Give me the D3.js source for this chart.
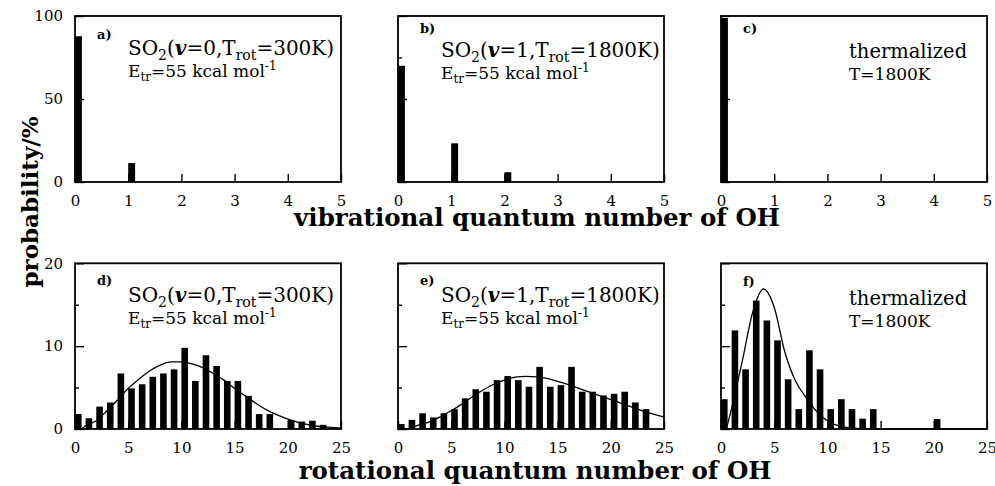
<!DOCTYPE html>
<html>
<head>
<meta charset="utf-8">
<script src="https://cdn.jsdelivr.net/npm/d3@7/dist/d3.min.js"></script>
<style>
body { margin: 0; background: #fff; }
</style>
</head>
<body>
<div id="chart"></div>
<script>
var w = 995,
	h = 486;

var serif = "'DejaVu Serif', serif";

// vibrational quantum number of OH (top row), probability in %
var vibLevels = [0, 1, 2, 3, 4, 5];
var vibA = [87.8, 11.4, 0, 0, 0, 0];
var vibB = [70.0, 23.3, 5.9, 0, 0, 0];
var vibC = [98.8, 0.6, 0, 0, 0, 0];

// rotational quantum number of OH (bottom row), probability in %
var rotLevels = [0, 1, 2, 3, 4, 5, 6, 7, 8, 9, 10, 11, 12, 13, 14, 15, 16, 17, 18, 19, 20, 21, 22, 23];
var rotD = [1.8, 1.3, 2.7, 3.2, 6.7, 4.9, 5.4, 6.3, 6.7, 7.2, 9.8, 5.8, 8.9, 7.6, 5.8, 5.8, 4.0, 1.8, 1.8, 0, 1.1, 0.9, 1.0, 0.5];
var rotE = [0.6, 1.1, 1.9, 1.4, 1.9, 2.4, 3.7, 4.8, 4.5, 5.9, 6.4, 5.9, 5.1, 7.5, 5.1, 5.3, 7.5, 4.5, 4.5, 4.05, 4.25, 4.5, 3.2, 2.4];
var rotF = [3.6, 11.9, 7.2, 15.5, 13.1, 10.7, 6.0, 2.4, 9.5, 7.2, 2.4, 3.6, 2.4, 1.25, 2.4, 0, 0, 0, 0, 0, 1.2, 0, 0, 0];

// fitted curves drawn over the rotational histograms
var fitDJ = [0.6, 1, 2, 3, 4, 5, 6, 7, 8, 9, 10, 11, 12, 13, 14, 15, 16, 17, 18, 19, 20, 21, 22, 23, 24, 25];
var fitD = [0, 0.4, 1.0, 2.2, 3.5, 4.9, 6.0, 7.0, 7.7, 8.1, 8.1, 7.85, 7.4, 6.7, 5.9, 4.9, 4.0, 3.1, 2.3, 1.7, 1.2, 0.8, 0.5, 0.3, 0.2, 0.12];
var fitEJ = [0.9, 2, 3, 4, 5, 6, 7, 8, 9, 10, 11, 12, 13, 14, 15, 16, 17, 18, 19, 20, 21, 22, 23, 24, 25];
var fitE = [0, 0.5, 0.9, 1.5, 2.2, 3.0, 3.9, 4.7, 5.4, 5.9, 6.25, 6.35, 6.3, 6.1, 5.75, 5.35, 4.9, 4.45, 4.0, 3.55, 3.1, 2.65, 2.2, 1.8, 1.45];
var fitFJ = [0.5, 1, 2, 3, 4, 5, 6, 7, 8, 9, 10, 11, 12, 13, 14, 25];
var fitF = [0, 2.5, 8.2, 14.2, 16.9, 14.7, 9.3, 5.8, 3.8, 2.1, 1.0, 0.4, 0.15, 0.05, 0, 0];

var vibTicks = [0, 1, 2, 3, 4, 5];
var rotTicks = [0, 5, 10, 15, 20, 25];

var svg = d3
	.select("#chart")
	.append("svg")
	.attr("width", w)
	.attr("height", h);

var pw = 266;
var lefts = [75, 398, 721];
var rows = [
	{ top: 16, bottom: 182, ymax: 100, major: [0, 50, 100], minor: [25, 75], xmax: 5, xticks: vibTicks, barW: 0.13 },
	{ top: 263.3, bottom: 429, ymax: 20, major: [0, 10, 20], minor: [5, 15], xmax: 25, xticks: rotTicks, barW: 0.62 }
];

function styleAxis(a, labels) {
	a.attr("font-family", serif).attr("font-size", 15);
	a.select(".domain").remove();
	a.selectAll("line").attr("stroke-width", 1.4);
	a.selectAll("text").style("font-family", serif).style("font-size", "15px");
	if (!labels) a.selectAll("text").remove();
}

function drawPanel(p) {
	var r = rows[p.row];
	var left = lefts[p.col];
	var x = d3.scaleLinear().domain([0, r.xmax]).range([left, left + pw]);
	var y = d3.scaleLinear().domain([0, r.ymax]).range([r.bottom, r.top]);
	var g = svg.append("g");

	var bars = p.levels.map(function(j, i) { return { j: j, v: p.values[i] }; })
		.filter(function(d) { return d.v > 0; });
	g.selectAll("rect.bar").data(bars).enter().append("rect")
		.attr("class", "bar")
		.attr("x", function(d) { return x(d.j); })
		.attr("width", function(d) { return x(d.j + r.barW) - x(d.j); })
		.attr("y", function(d) { return y(d.v); })
		.attr("height", function(d) { return y(0) - y(d.v); })
		.attr("fill", "#000");

	if (p.fitJ) {
		var pts = p.fitJ.map(function(j, i) { return [j, p.fit[i]]; });
		g.append("path")
			.datum(pts)
			.attr("fill", "none")
			.attr("stroke", "#000")
			.attr("stroke-width", 1.3)
			.attr("d", d3.line()
				.x(function(d) { return x(d[0]); })
				.y(function(d) { return y(d[1]); })
				.curve(d3.curveMonotoneX));
	}

	// bottom axis, ticks pointing inward
	var xa = g.append("g")
		.attr("transform", `translate(0, ${r.bottom})`)
		.call(d3.axisBottom(x).tickValues(r.xticks).tickFormat(d3.format("d"))
			.tickSizeInner(-8).tickSizeOuter(0).tickPadding(13));
	styleAxis(xa, true);

	// left axis: labelled majors + short minors
	var ya = g.append("g")
		.attr("transform", `translate(${left}, 0)`)
		.call(d3.axisLeft(y).tickValues(r.major).tickFormat(d3.format("d"))
			.tickSizeInner(-9).tickSizeOuter(0).tickPadding(12));
	styleAxis(ya, p.col == 0);

	var ym = g.append("g")
		.attr("transform", `translate(${left}, 0)`)
		.call(d3.axisLeft(y).tickValues(r.minor).tickSizeInner(-4).tickSizeOuter(0));
	styleAxis(ym, false);

	// frame
	g.append("rect")
		.attr("x", left)
		.attr("y", r.top)
		.attr("width", pw)
		.attr("height", r.bottom - r.top)
		.attr("fill", "none")
		.attr("stroke", "#000")
		.attr("stroke-width", 1.8);

	// panel letter
	g.append("text")
		.attr("x", left + 22)
		.attr("y", p.letterY)
		.style("font-family", serif)
		.style("font-size", "13px")
		.style("font-weight", "bold")
		.text(p.letter);

	// annotation
	if (p.thermal) {
		g.append("text").attr("x", left + 128).attr("y", r.top + 42)
			.style("font-family", serif).style("font-size", "19.5px").text("thermalized");
		g.append("text").attr("x", left + 128).attr("y", r.top + 64)
			.style("font-family", serif).style("font-size", "17px").text("T=1800K");
	} else {
		var t1 = g.append("text").attr("x", left + p.textDx).attr("y", r.top + p.line1)
			.style("font-family", serif).style("font-size", "20px");
		t1.append("tspan").text("SO");
		t1.append("tspan").attr("dy", 5).style("font-size", "14px").text("2");
		t1.append("tspan").attr("dy", -5).text("(");
		t1.append("tspan").style("font-weight", "bold").style("font-style", "italic").text("v");
		t1.append("tspan").text("=" + p.v + ",T");
		t1.append("tspan").attr("dy", 5).style("font-size", "14px").text("rot");
		t1.append("tspan").attr("dy", -5).text("=" + p.trot + ")");

		var t2 = g.append("text").attr("x", left + p.textDx).attr("y", r.top + p.line1 + 22)
			.style("font-family", serif).style("font-size", "17px");
		t2.append("tspan").text("E");
		t2.append("tspan").attr("dy", 4).style("font-size", "12px").text("tr");
		t2.append("tspan").attr("dy", -4).text("=55 kcal mol");
		t2.append("tspan").attr("dy", -7).style("font-size", "12px").text("-1");
	}
}

drawPanel({ row: 0, col: 0, levels: vibLevels, values: vibA, letter: "a)", letterY: 39, textDx: 53, line1: 39, v: 0, trot: "300K" });
drawPanel({ row: 0, col: 1, levels: vibLevels, values: vibB, letter: "b)", letterY: 33, textDx: 43, line1: 41, v: 1, trot: "1800K" });
drawPanel({ row: 0, col: 2, levels: vibLevels, values: vibC, letter: "c)", letterY: 33, thermal: true });
drawPanel({ row: 1, col: 0, levels: rotLevels, values: rotD, fitJ: fitDJ, fit: fitD, letter: "d)", letterY: 285, textDx: 53, line1: 38.5, v: 0, trot: "300K" });
drawPanel({ row: 1, col: 1, levels: rotLevels, values: rotE, fitJ: fitEJ, fit: fitE, letter: "e)", letterY: 285, textDx: 43, line1: 39, v: 1, trot: "1800K" });
drawPanel({ row: 1, col: 2, levels: rotLevels, values: rotF, fitJ: fitFJ, fit: fitF, letter: "f)", letterY: 286, thermal: true });

// shared axis titles
svg.append("text")
	.attr("x", 537)
	.attr("y", 226)
	.attr("text-anchor", "middle")
	.style("font-family", serif)
	.style("font-size", "24.5px")
	.style("font-weight", "bold")
	.text("vibrational quantum number of OH");

svg.append("text")
	.attr("x", 535)
	.attr("y", 479)
	.attr("text-anchor", "middle")
	.style("font-family", serif)
	.style("font-size", "24.5px")
	.style("font-weight", "bold")
	.text("rotational quantum number of OH");

svg.append("text")
	.attr("transform", "translate(38, 202) rotate(-90)")
	.attr("text-anchor", "middle")
	.style("font-family", serif)
	.style("font-size", "23px")
	.style("font-weight", "bold")
	.text("probability/%");
</script>
</body>
</html>
